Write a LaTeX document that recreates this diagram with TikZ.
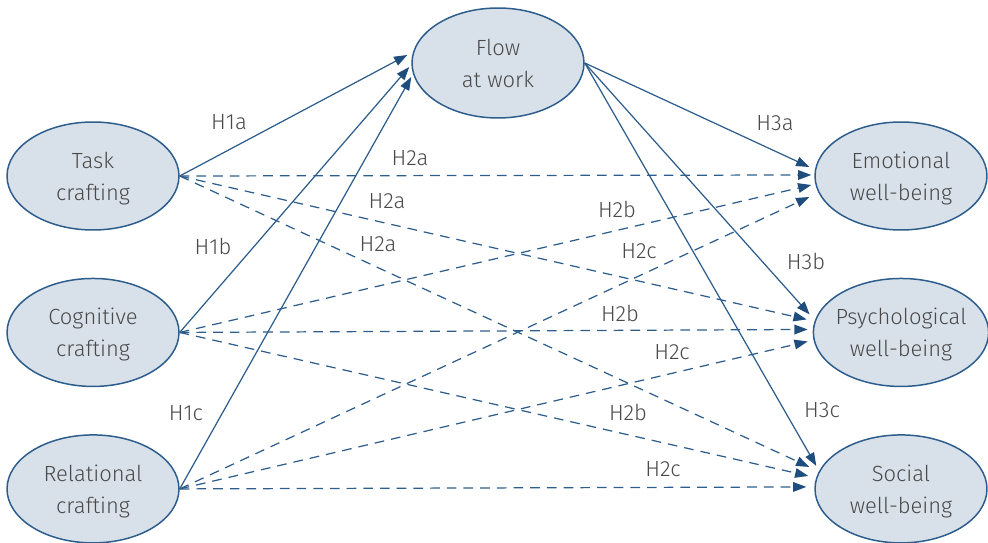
\documentclass[tikz,border=0pt]{standalone}
\usepackage{fontspec}
\setmainfont{Fira Sans}[UprightFont={* Light}]
\usetikzlibrary{positioning}
\usetikzlibrary{arrows.meta}
\usetikzlibrary{shapes.geometric}

\definecolor{lineblue}{HTML}{2D5D8C}
\definecolor{tipblue}{HTML}{1F4E7E}
\definecolor{fillblue}{HTML}{D8E1EA}
\definecolor{textgray}{HTML}{4A4A4A}

\tikzset{
    latent/.style={ellipse, draw=lineblue, line width=0.85pt, fill=fillblue,
        minimum width=3.44cm, minimum height=2.16cm, inner xsep=-2pt, inner ysep=0pt,
        text depth=-1.5pt, align=center, text=textgray,
        font=\fontsize{12.5}{18.2}\selectfont},
    direct/.style={draw=lineblue, line width=0.7pt,
        -{Triangle[length=7.5pt,width=5.5pt,color=tipblue]}},
    indirect/.style={direct, dash pattern=on 5.5pt off 4pt},
    hyp/.style={text=textgray, inner sep=0pt, font=\fontsize{12.5}{15}\selectfont}
}

\begin{document}
\begin{tikzpicture}[x=0.02cm, y=-0.02cm]
    \useasboundingbox (0,0) rectangle (988,543);
    \node[latent] (task) at (93,176) {Task\\crafting};
    \node[latent, below = 0.94cm of task] (cog) {Cognitive\\crafting};
    \node[latent, below = 0.94cm of cog] (rel) {Relational\\crafting};
    \node[latent, minimum height=2.2cm] (flow) at (498,63) {Flow\\at work};
    \node[latent] (emo) at (901,176) {Emotional\\well-being};
    \node[latent, below = 0.94cm of emo] (psy) {Psychological\\well-being};
    \node[latent, below = 0.94cm of psy] (soc) {Social\\well-being};
    % crafting -> flow
    \path[direct] (task.east) -- ([shift={(-4,-8)}]flow.west);
    \path[direct] (cog.east) -- ([shift={(-2,4)}]flow.west);
    \path[direct] (rel.east) -- ([shift={(0,14)}]flow.west);
    % flow -> well-being
    \path[direct] (flow.east) -- ([shift={(-5,-9)}]emo.west);
    \path[direct] (flow.east) -- ([shift={(-3,-18)}]psy.west);
    \path[direct] (flow.east) -- ([shift={(2,-23)}]soc.west);
    % crafting -> well-being
    \path[indirect] (task.east) -- ([shift={(-3,-1)}]emo.west);
    \path[indirect] (task.east) -- ([shift={(-6,-13)}]psy.west);
    \path[indirect] (task.east) -- ([shift={(-5,-22)}]soc.west);
    \path[indirect] (cog.east) -- ([shift={(-3,9)}]emo.west);
    \path[indirect] (cog.east) -- ([shift={(-5,-3)}]psy.west);
    \path[indirect] (cog.east) -- ([shift={(-6,-13)}]soc.west);
    \path[indirect] (rel.east) -- ([shift={(-5,21)}]emo.west);
    \path[indirect] (rel.east) -- ([shift={(-5,9)}]psy.west);
    \path[indirect] (rel.east) -- ([shift={(-8,-2)}]soc.west);
    % labels
    \node[hyp] (h1a) at (229,122) {H1a};
    \node[hyp] (h1b) at (213,246) {H1b};
    \node[hyp] (h1c) at (186,413) {H1c};
    \node[hyp] (h2a1) at (410,158) {H2a};
    \node[hyp] (h2a2) at (387,201) {H2a};
    \node[hyp] (h2a3) at (378,244) {H2a};
    \node[hyp] (h2b1) at (617,209) {H2b};
    \node[hyp] (h2b2) at (620,313) {H2b};
    \node[hyp] (h2b3) at (628,412) {H2b};
    \node[hyp] (h2c1) at (639,251) {H2c};
    \node[hyp] (h2c2) at (672,352) {H2c};
    \node[hyp] (h2c3) at (663,469) {H2c};
    \node[hyp] (h3a) at (775,123) {H3a};
    \node[hyp] (h3b) at (806,261) {H3b};
    \node[hyp] (h3c) at (822,410) {H3c};
\end{tikzpicture}
\end{document}
